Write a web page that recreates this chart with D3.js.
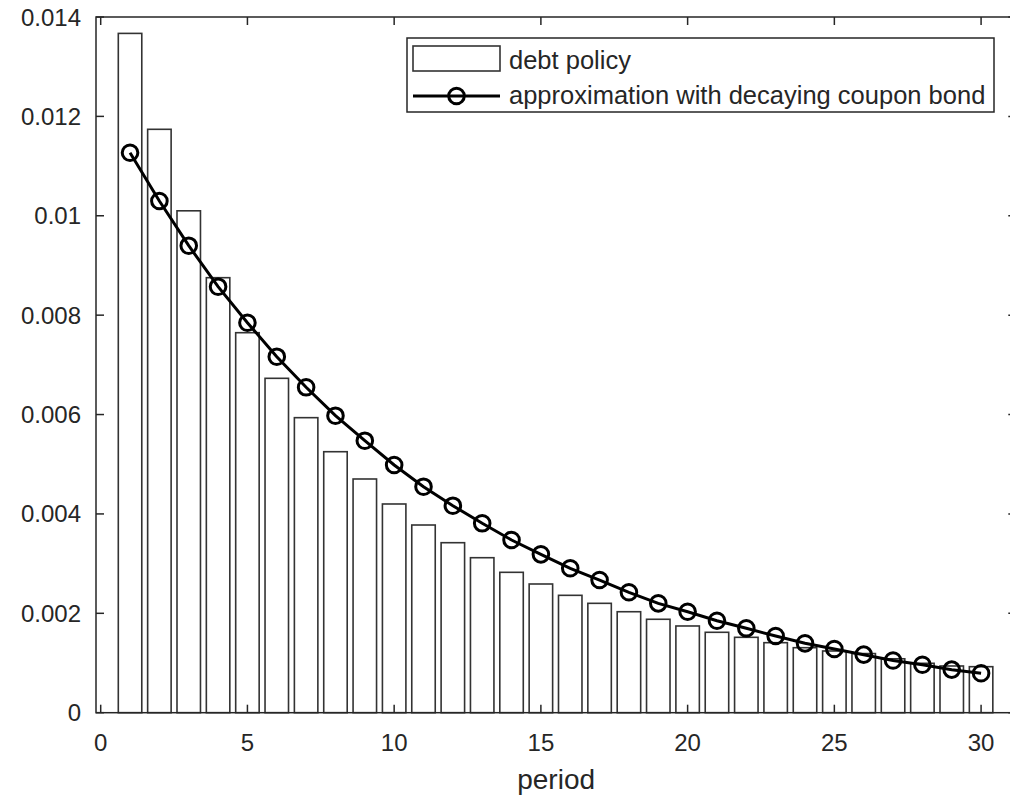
<!DOCTYPE html>
<html>
<head>
<meta charset="utf-8">
<script src="https://cdn.jsdelivr.net/npm/d3@7"></script>
<style>
  html, body { margin: 0; padding: 0; background: #fff; }
  svg { display: block; }
  text { font-family: "Liberation Sans", Arial, Helvetica, sans-serif; fill: #262626; }
</style>
</head>
<body>
<svg id="chart" width="1010" height="798"></svg>
<script>
// ---- data ----
const periods = d3.range(1, 31);
const debtPolicy = [0.01367, 0.01174, 0.01010, 0.008754, 0.007647, 0.006729, 0.005937, 0.005252, 0.004703, 0.0042,
                    0.003777, 0.003421, 0.003119, 0.002825, 0.00259, 0.002362, 0.002201, 0.002032, 0.00188, 0.001745,
                    0.001618, 0.001517, 0.001409, 0.001308, 0.001242, 0.001190, 0.001085, 0.000994, 0.00094, 0.000926];
const approximation = [0.011269, 0.010297, 0.009398, 0.008573, 0.007848, 0.007164, 0.006548, 0.005977, 0.005474, 0.004985,
                       0.004548, 0.004166, 0.003811, 0.003475, 0.003187, 0.002906, 0.002670, 0.002423, 0.002201, 0.002032,
                       0.001851, 0.001698, 0.001543, 0.001396, 0.001282, 0.001168, 0.001050, 0.000965, 0.000866, 0.000793];
const xTicks = [0, 5, 10, 15, 20, 25, 30];
const xTickLabels = ["0", "5", "10", "15", "20", "25", "30"];
const yTicks = [0, 0.002, 0.004, 0.006, 0.008, 0.01, 0.012, 0.014];
const yTickLabels = ["0", "0.002", "0.004", "0.006", "0.008", "0.01", "0.012", "0.014"];
const legendLabels = ["debt policy", "approximation with decaying coupon bond"];
const xLabel = "period";

// ---- layout ----
const L = 96, R = 1016.3, T = 17, B = 712.7;
const svg = d3.select("#chart");
const x = d3.scaleLinear().domain([-0.16, 31.2]).range([L, R]);
const y = d3.scaleLinear().domain([0, 0.014]).range([B, T]);
const ink = "#262626";
const fs = 24;
const barW = 0.8;

// bars
svg.append("g").selectAll("rect").data(periods).join("rect")
  .attr("x", (d) => x(d - barW / 2))
  .attr("width", (d) => x(d + barW / 2) - x(d - barW / 2))
  .attr("y", (d, i) => y(debtPolicy[i]))
  .attr("height", (d, i) => y(0) - y(debtPolicy[i]))
  .attr("fill", "#fff").attr("stroke", "#333").attr("stroke-width", 1.6);

// line
const line = d3.line().x((d) => x(d)).y((d, i) => y(approximation[i]));
svg.append("path").datum(periods).attr("d", line)
  .attr("fill", "none").attr("stroke", "#000").attr("stroke-width", 3);
svg.append("g").selectAll("circle").data(periods).join("circle")
  .attr("cx", (d) => x(d)).attr("cy", (d, i) => y(approximation[i]))
  .attr("r", 7.8).attr("fill", "none").attr("stroke", "#000").attr("stroke-width", 3);

// axes frame
const tickLen = 8;
const frame = svg.append("g").attr("fill", "none").attr("stroke", ink).attr("stroke-width", 1.5);
frame.append("rect").attr("x", L).attr("y", T).attr("width", R - L).attr("height", B - T);
xTicks.forEach((t) => {
  frame.append("line").attr("x1", x(t)).attr("x2", x(t)).attr("y1", B).attr("y2", B - tickLen);
  frame.append("line").attr("x1", x(t)).attr("x2", x(t)).attr("y1", T).attr("y2", T + tickLen);
});
yTicks.forEach((t) => {
  frame.append("line").attr("x1", L).attr("x2", L + tickLen).attr("y1", y(t)).attr("y2", y(t));
  frame.append("line").attr("x1", R).attr("x2", R - tickLen).attr("y1", y(t)).attr("y2", y(t));
});

// tick labels
svg.append("g").selectAll("text").data(xTicks).join("text")
  .attr("x", (d) => x(d)).attr("y", 751)
  .attr("text-anchor", "middle").attr("font-size", fs)
  .text((d, i) => xTickLabels[i]);
svg.append("g").selectAll("text").data(yTicks).join("text")
  .attr("x", 81).attr("y", (d) => y(d) + 8.5)
  .attr("text-anchor", "end").attr("font-size", fs)
  .text((d, i) => yTickLabels[i]);
svg.append("text").attr("x", (L + R) / 2).attr("y", 789)
  .attr("text-anchor", "middle").attr("font-size", 28).text(xLabel);

// legend
const lg = svg.append("g");
lg.append("rect").attr("x", 407).attr("y", 38).attr("width", 587).attr("height", 74)
  .attr("fill", "#fff").attr("stroke", ink).attr("stroke-width", 1.5);
lg.append("rect").attr("x", 413).attr("y", 46).attr("width", 87).attr("height", 25)
  .attr("fill", "#fff").attr("stroke", "#333").attr("stroke-width", 1.6);
lg.append("line").attr("x1", 413).attr("x2", 500).attr("y1", 96).attr("y2", 96)
  .attr("stroke", "#000").attr("stroke-width", 3);
lg.append("circle").attr("cx", 456.5).attr("cy", 96).attr("r", 7.8)
  .attr("fill", "none").attr("stroke", "#000").attr("stroke-width", 3);
lg.append("text").attr("x", 509).attr("y", 69).attr("font-size", 25.5).text(legendLabels[0]);
lg.append("text").attr("x", 509).attr("y", 104).attr("font-size", 25.5).text(legendLabels[1]);
</script>
</body>
</html>
